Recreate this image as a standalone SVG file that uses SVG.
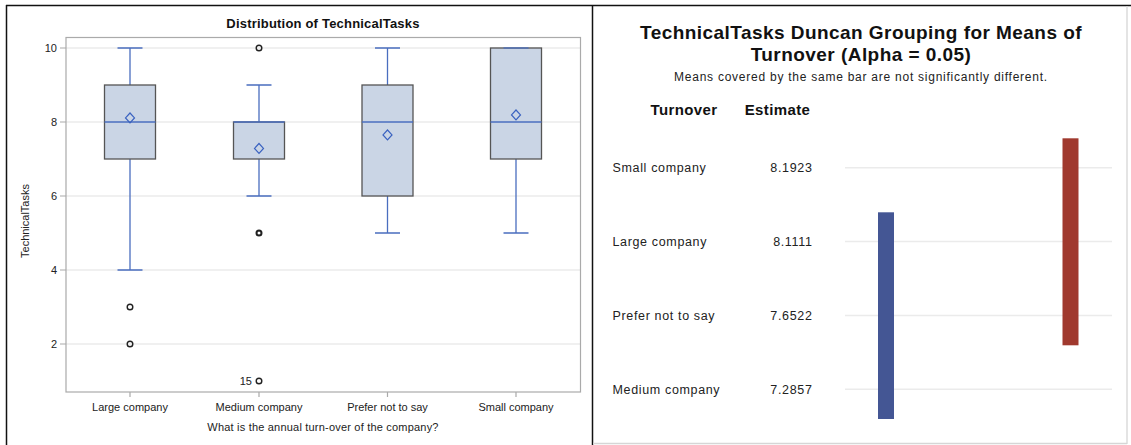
<svg xmlns="http://www.w3.org/2000/svg" width="1131" height="445" viewBox="0 0 1131 445">
  <style>
    text { font-family: "Liberation Sans", Arial, sans-serif; fill: #111; }
    .title { font-size: 13px; font-weight: bold; letter-spacing: 0.2px; }
    .big { font-size: 19px; font-weight: bold; letter-spacing: 0.45px; }
    .sub { font-size: 12px; fill: #222; letter-spacing: 0.75px; }
    .hdr { font-size: 15px; font-weight: bold; letter-spacing: 0.4px; }
    .row { font-size: 12.5px; fill: #222; letter-spacing: 0.65px; }
    .tick { font-size: 11px; fill: #222; }
    .grid { stroke: #ebebeb; stroke-width: 1.5; }
    .box { fill: #cad5e5; stroke: #555; stroke-width: 1.3; }
    .wh { stroke: #4a6ebf; stroke-width: 1.3; fill: none; }
    .mean { fill: none; stroke: #3a62c0; stroke-width: 1.2; }
    .out { fill: none; stroke: #222; stroke-width: 1.4; }
    .axis { stroke: #aaa; stroke-width: 1.2; fill: none; }
  </style>

  <!-- panel borders -->
  <g id="frame">
    <rect x="0" y="0" width="1131" height="445" fill="#fff"/>
    <line x1="6" y1="5.5" x2="1131" y2="5.5" stroke="#111" stroke-width="1.5"/>
    <line x1="6.5" y1="5" x2="6.5" y2="445" stroke="#111" stroke-width="1.5"/>
    <line x1="592.5" y1="5" x2="592.5" y2="445" stroke="#111" stroke-width="1.5"/>
    <line x1="1127" y1="6" x2="1127" y2="444" stroke="#d6d6d6" stroke-width="1.3"/>
    <line x1="593" y1="443.5" x2="1127" y2="443.5" stroke="#d6d6d6" stroke-width="1.3"/>
  </g>

  <!-- box plot -->
  <g id="boxplot">
    <text class="title" x="323" y="28" text-anchor="middle">Distribution of TechnicalTasks</text>

    <g id="grid">
      <line class="grid" x1="66" y1="48" x2="580" y2="48"/>
      <line class="grid" x1="66" y1="122" x2="580" y2="122"/>
      <line class="grid" x1="66" y1="196" x2="580" y2="196"/>
      <line class="grid" x1="66" y1="270" x2="580" y2="270"/>
      <line class="grid" x1="66" y1="344" x2="580" y2="344"/>
    </g>

    <rect class="axis" x="66" y="37.5" width="514.5" height="354.5"/>

    <g id="y-axis">
      <path class="axis" d="M60 48H66M60 122H66M60 196H66M60 270H66M60 344H66"/>
      <text class="tick" x="57" y="52" text-anchor="end">10</text>
      <text class="tick" x="57" y="126" text-anchor="end">8</text>
      <text class="tick" x="57" y="200" text-anchor="end">6</text>
      <text class="tick" x="57" y="274" text-anchor="end">4</text>
      <text class="tick" x="57" y="348" text-anchor="end">2</text>
      <text class="tick" transform="translate(29 221) rotate(-90)" text-anchor="middle" font-size="10.5">TechnicalTasks</text>
    </g>

    <g id="x-axis">
      <path class="axis" d="M130 392V397M259 392V397M387.5 392V397M516 392V397"/>
      <text class="tick" x="130" y="411" text-anchor="middle">Large company</text>
      <text class="tick" x="259" y="411" text-anchor="middle">Medium company</text>
      <text class="tick" x="387.5" y="411" text-anchor="middle">Prefer not to say</text>
      <text class="tick" x="516" y="411" text-anchor="middle">Small company</text>
      <text class="tick" x="323" y="431" text-anchor="middle" font-size="11.5" letter-spacing="0.2">What is the annual turn-over of the company?</text>
    </g>

    <g id="large">
      <path class="wh" d="M130 48V85M130 159V270M117.5 48H142.5M117.5 270H142.5"/>
      <rect class="box" x="104.5" y="85" width="51" height="74"/>
      <line class="wh" x1="104.5" y1="122" x2="155.5" y2="122"/>
      <path class="mean" d="M130 113L134.5 117.9L130 122.8L125.5 117.9Z"/>
      <circle class="out" cx="130" cy="307" r="2.8"/>
      <circle class="out" cx="130" cy="344" r="2.8"/>
    </g>

    <g id="medium">
      <path class="wh" d="M259 85V122M259 159V196M246.5 85H271.5M246.5 196H271.5"/>
      <rect class="box" x="233.5" y="122" width="51" height="37"/>
      <line class="wh" x1="233.5" y1="122" x2="284.5" y2="122"/>
      <path class="mean" d="M259 143.5L263.5 148.4L259 153.3L254.5 148.4Z"/>
      <circle class="out" cx="259" cy="48" r="2.8"/>
      <circle class="out" cx="259" cy="233" r="2.8"/>
      <circle class="out" cx="259" cy="233" r="2.2"/>
      <circle class="out" cx="259" cy="381" r="2.8"/>
      <text class="tick" x="252" y="384.5" text-anchor="end" font-size="9.5">15</text>
    </g>

    <g id="prefer">
      <path class="wh" d="M387.5 48V85M387.5 196V233M375 48H400M375 233H400"/>
      <rect class="box" x="362" y="85" width="51" height="111"/>
      <line class="wh" x1="362" y1="122" x2="413" y2="122"/>
      <path class="mean" d="M387.5 130L392 134.9L387.5 139.8L383 134.9Z"/>
    </g>

    <g id="small">
      <path class="wh" d="M516 159V233M503.5 233H528.5"/>
      <rect class="box" x="490.5" y="48" width="51" height="111"/>
      <line class="wh" x1="503.5" y1="48" x2="528.5" y2="48"/>
      <line class="wh" x1="490.5" y1="122" x2="541.5" y2="122"/>
      <path class="mean" d="M516 110L520.5 114.9L516 119.8L511.5 114.9Z"/>
    </g>
  </g>

  <!-- Duncan grouping -->
  <g id="duncan">
    <text class="big" x="861" y="39" text-anchor="middle">TechnicalTasks Duncan Grouping for Means of</text>
    <text class="big" x="861" y="61" text-anchor="middle">Turnover (Alpha = 0.05)</text>
    <text class="sub" x="861" y="80.5" text-anchor="middle">Means covered by the same bar are not significantly different.</text>

    <text class="hdr" x="684" y="115" text-anchor="middle">Turnover</text>
    <text class="hdr" x="777.5" y="115" text-anchor="middle">Estimate</text>

    <g id="rows-grid">
      <line class="grid" x1="845" y1="167.7" x2="1112" y2="167.7"/>
      <line class="grid" x1="845" y1="241.5" x2="1112" y2="241.5"/>
      <line class="grid" x1="845" y1="315.5" x2="1112" y2="315.5"/>
      <line class="grid" x1="845" y1="389.3" x2="1112" y2="389.3"/>
    </g>

    <g id="row-small">
      <text class="row" x="612.5" y="172">Small company</text>
      <text class="row" x="812.5" y="172" text-anchor="end">8.1923</text>
    </g>
    <g id="row-large">
      <text class="row" x="612.5" y="246">Large company</text>
      <text class="row" x="812.5" y="246" text-anchor="end">8.1111</text>
    </g>
    <g id="row-prefer">
      <text class="row" x="612.5" y="320">Prefer not to say</text>
      <text class="row" x="812.5" y="320" text-anchor="end">7.6522</text>
    </g>
    <g id="row-medium">
      <text class="row" x="612.5" y="393.5">Medium company</text>
      <text class="row" x="812.5" y="393.5" text-anchor="end">7.2857</text>
    </g>

    <rect id="group-a" x="878" y="212.3" width="16" height="206.7" fill="#445694"/>
    <rect id="group-b" x="1062.5" y="138.3" width="16" height="207" fill="#a0392e"/>
  </g>
</svg>
